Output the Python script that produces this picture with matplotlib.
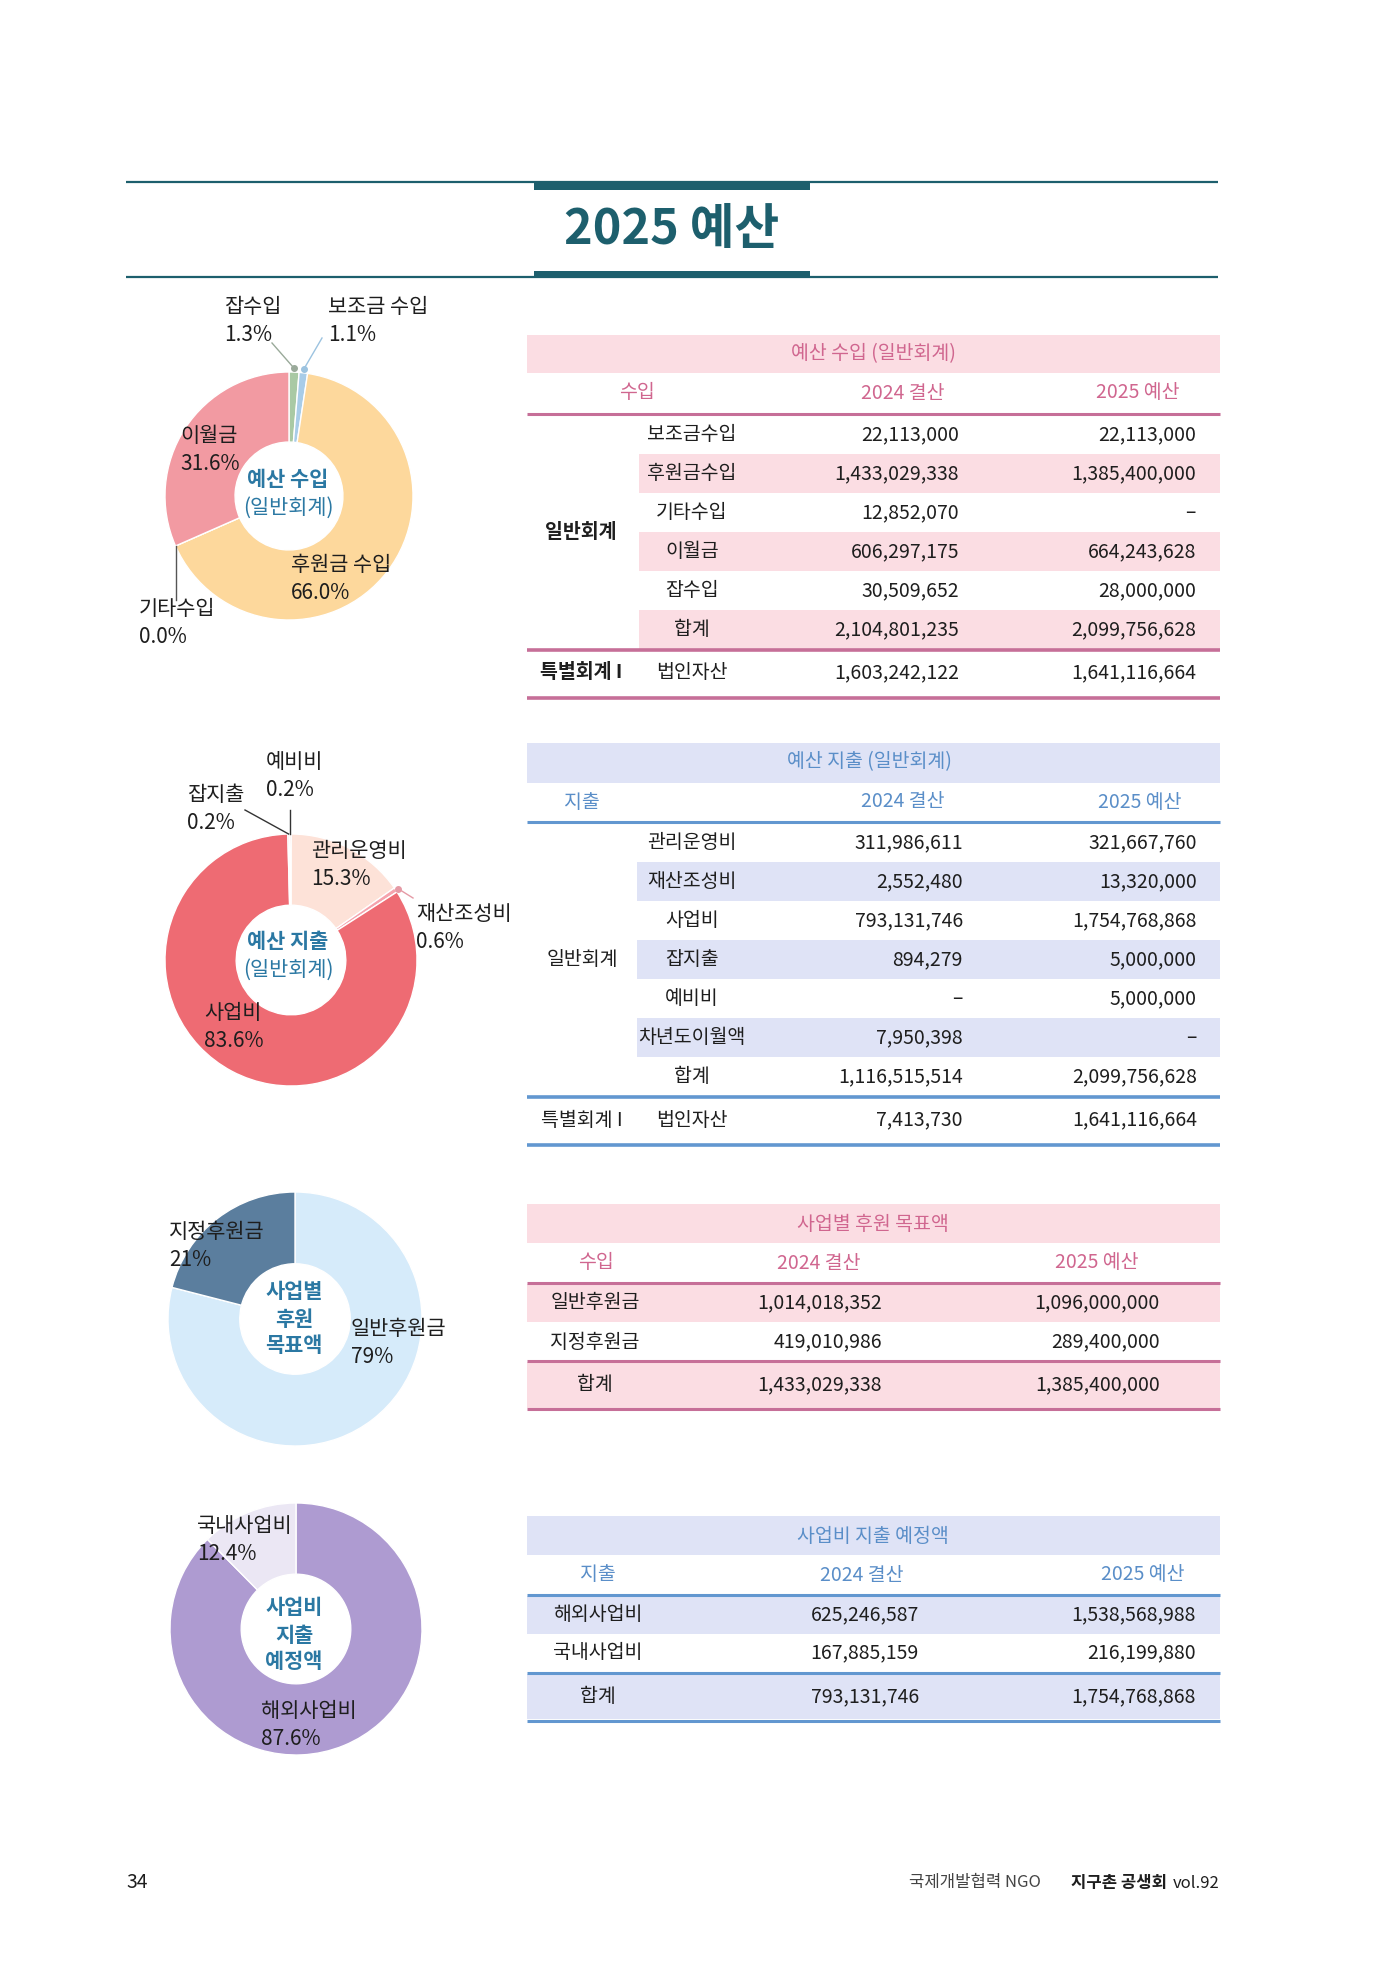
import matplotlib
matplotlib.use('Agg')
import matplotlib.pyplot as plt
from matplotlib.patches import Rectangle
import numpy as np

plt.rcParams['font.family'] = ['Noto Sans CJK KR', 'DejaVu Sans']

W, H = 1381, 1968

# ---------------- data ----------------
# donut 1: 예산 수입 (clockwise from top)
inc_labels = ['잡수입', '보조금 수입', '후원금 수입', '기타수입', '이월금']
inc_pct = [1.3, 1.1, 66.0, 0.0, 31.6]
inc_colors = ['#a9c9a4', '#a8cce8', '#fdd89c', '#cccccc', '#f29aa2']

# donut 2: 예산 지출
exp_labels = ['관리운영비', '재산조성비', '사업비', '잡지출', '예비비']
exp_pct = [15.3, 0.6, 83.6, 0.2, 0.2]
exp_colors = ['#fde2d8', '#f5a3ad', '#ee6b73', '#f2b0b0', '#f7c6c0']

# donut 3: 사업별 후원 목표액
don_labels = ['일반후원금', '지정후원금']
don_pct = [79, 21]
don_colors = ['#d6ebfa', '#5b7e9e']

# donut 4: 사업비 지출 예정액
biz_labels = ['해외사업비', '국내사업비']
biz_pct = [87.6, 12.4]
biz_colors = ['#ae9bd1', '#ebe7f4']

# table 1: 예산 수입 (일반회계)
t1_items = ['보조금수입', '후원금수입', '기타수입', '이월금', '잡수입', '합계']
t1_2024 = [22113000, 1433029338, 12852070, 606297175, 30509652, 2104801235]
t1_2025 = [22113000, 1385400000, None, 664243628, 28000000, 2099756628]
t1_sp_item = '법인자산'
t1_sp_2024 = 1603242122
t1_sp_2025 = 1641116664

# table 2: 예산 지출 (일반회계)
t2_items = ['관리운영비', '재산조성비', '사업비', '잡지출', '예비비', '차년도이월액', '합계']
t2_2024 = [311986611, 2552480, 793131746, 894279, None, 7950398, 1116515514]
t2_2025 = [321667760, 13320000, 1754768868, 5000000, 5000000, None, 2099756628]
t2_sp_item = '법인자산'
t2_sp_2024 = 7413730
t2_sp_2025 = 1641116664

# table 3: 사업별 후원 목표액
t3_items = ['일반후원금', '지정후원금', '합계']
t3_2024 = [1014018352, 419010986, 1433029338]
t3_2025 = [1096000000, 289400000, 1385400000]

# table 4: 사업비 지출 예정액
t4_items = ['해외사업비', '국내사업비', '합계']
t4_2024 = [625246587, 167885159, 793131746]
t4_2025 = [1538568988, 216199880, 1754768868]

# ---------------- style ----------------
TEAL = '#1d5f6d'
CENTER_C = '#2b78a3'
PINK_BG, PINK_TXT, PINK_LINE = '#fbdde3', '#d0668f', '#c66f98'
BLUE_BG, BLUE_TXT, BLUE_LINE = '#dfe3f6', '#5a8ec8', '#6297d0'
TXT = '#1e1e1e'
FS = 14
LFS = 15

fig = plt.figure(figsize=(W / 100, H / 100), dpi=100)
fig.patch.set_facecolor('white')
ax = fig.add_axes([0, 0, 1, 1])
ax.set_xlim(0, W)
ax.set_ylim(H, 0)
ax.axis('off')
ax.set_zorder(10)
ax.patch.set_alpha(0)


def fmt(v):
    return '–' if v is None else f'{v:,}'


def hline(y, x0, x1, c, lw=2.2):
    ax.plot([x0, x1], [y, y], color=c, lw=lw, solid_capstyle='butt')


def band(x0, y0, x1, y1, c):
    ax.add_patch(Rectangle((x0, y0), x1 - x0, y1 - y0, facecolor=c, edgecolor='none', zorder=0))


def donut(cx, cy, R, vals, colors, hole=0.435):
    pax = fig.add_axes([(cx - R) / W, 1 - (cy + R) / H, 2 * R / W, 2 * R / H])
    wedges, _ = pax.pie(vals, colors=colors, startangle=90, counterclock=False,
                        wedgeprops=dict(width=1 - hole, edgecolor='white', linewidth=1))
    pax.set_xlim(-1, 1)
    pax.set_ylim(-1, 1)
    pax.set_axis_off()
    return wedges


def edge_pt(cx, cy, R, w, r=1.0):
    a = np.deg2rad((w.theta1 + w.theta2) / 2)
    return cx + R * r * np.cos(a), cy - R * r * np.sin(a)


def label(x, y, name, pct):
    ax.text(x, y, name, fontsize=LFS, color=TXT, ha='left', va='center')
    ax.text(x, y + 28, pct, fontsize=LFS, color=TXT, ha='left', va='center')


def leader(p, q, c, dot=False):
    ax.plot([p[0], q[0]], [p[1], q[1]], color=c, lw=1)
    if dot:
        ax.plot(p[0], p[1], 'o', color=c, ms=4)


# ---------------- title ----------------
hline(182, 126, 1218, TEAL, lw=1.6)
hline(277, 126, 1218, TEAL, lw=1.6)
band(534, 182, 810, 190, TEAL)
band(534, 271, 810, 278, TEAL)
ax.text(672, 230, '2025 예산', fontsize=35, fontweight='bold', color=TEAL,
        ha='center', va='center')

# ---------------- donut 1 ----------------
c1 = (289, 496, 124)
w1 = donut(*c1, inc_pct, inc_colors)
p = edge_pt(*c1, w1[0], 1.03)
leader(p, (272, 343), '#9aaa9a', dot=True)
p = edge_pt(*c1, w1[1], 1.03)
leader(p, (322, 338), '#9cc3e0', dot=True)
p = edge_pt(*c1, w1[3], 1.0)
leader(p, (p[0], 600), '#555555')
label(224, 307, inc_labels[0], f'{inc_pct[0]:.1f}%')
label(328, 307, inc_labels[1], f'{inc_pct[1]:.1f}%')
label(180, 436, inc_labels[4], f'{inc_pct[4]:.1f}%')
label(291, 565, inc_labels[2], f'{inc_pct[2]:.1f}%')
label(139, 609, inc_labels[3], f'{inc_pct[3]:.1f}%')
ax.text(288, 480, '예산 수입', fontsize=LFS, fontweight='bold', color=CENTER_C, ha='center', va='center')
ax.text(288, 508, '(일반회계)', fontsize=LFS, color=CENTER_C, ha='center', va='center')

# ---------------- table 1 ----------------
TL, TR = 527, 1220
band(TL, 335, TR, 373, PINK_BG)
ax.text(873, 354, '예산 수입 (일반회계)', fontsize=FS, fontweight='medium', color=PINK_TXT, ha='center', va='center')
for x, s in zip([637, 903, 1138], ['수입', '2024 결산', '2025 예산']):
    ax.text(x, 393, s, fontsize=FS, fontweight='medium', color=PINK_TXT, ha='center', va='center')
hline(414, TL, TR, PINK_LINE)
top, rh = 415, 39
for i, (it, a, b) in enumerate(zip(t1_items, t1_2024, t1_2025)):
    yc = top + rh * (i + 0.5)
    if i % 2 == 1:
        band(639, top + rh * i, TR, top + rh * (i + 1), PINK_BG)
    ax.text(692, yc, it, fontsize=FS, color=TXT, ha='center', va='center')
    ax.text(959, yc, fmt(a), fontsize=FS, color=TXT, ha='right', va='center')
    ax.text(1196, yc, fmt(b), fontsize=FS, color=TXT, ha='right', va='center')
ax.text(581, top + rh * len(t1_items) / 2, '일반회계', fontsize=FS, fontweight='bold', color=TXT, ha='center', va='center')
hline(650, TL, TR, PINK_LINE, lw=2.6)
ax.text(581, 673, '특별회계 I', fontsize=FS, fontweight='bold', color=TXT, ha='center', va='center')
ax.text(692, 673, t1_sp_item, fontsize=FS, color=TXT, ha='center', va='center')
ax.text(959, 673, fmt(t1_sp_2024), fontsize=FS, color=TXT, ha='right', va='center')
ax.text(1196, 673, fmt(t1_sp_2025), fontsize=FS, color=TXT, ha='right', va='center')
hline(698, TL, TR, PINK_LINE, lw=2.6)

# ---------------- donut 2 ----------------
c2 = (291, 960, 126)
w2 = donut(*c2, exp_pct, exp_colors)
p = edge_pt(*c2, w2[3], 1.0)
leader(p, (245, 810), '#333333')
p = edge_pt(*c2, w2[4], 1.0)
leader(p, (p[0], 810), '#333333')
p = edge_pt(*c2, w2[1], 1.02)
leader(p, (413, 898), '#e59aa5', dot=True)
label(266, 762, exp_labels[4], f'{exp_pct[4]:.1f}%')
label(187, 795, exp_labels[3], f'{exp_pct[3]:.1f}%')
label(311, 851, exp_labels[0], f'{exp_pct[0]:.1f}%')
label(416, 914, exp_labels[1], f'{exp_pct[1]:.1f}%')
label(204, 1013, exp_labels[2], f'{exp_pct[2]:.1f}%')
ax.text(288, 942, '예산 지출', fontsize=LFS, fontweight='bold', color=CENTER_C, ha='center', va='center')
ax.text(288, 970, '(일반회계)', fontsize=LFS, color=CENTER_C, ha='center', va='center')

# ---------------- table 2 ----------------
band(TL, 743, TR, 783, BLUE_BG)
ax.text(869, 762, '예산 지출 (일반회계)', fontsize=FS, fontweight='medium', color=BLUE_TXT, ha='center', va='center')
for x, s in zip([582, 903, 1140], ['지출', '2024 결산', '2025 예산']):
    ax.text(x, 802, s, fontsize=FS, fontweight='medium', color=BLUE_TXT, ha='center', va='center')
hline(822, TL, TR, BLUE_LINE)
top = 823
for i, (it, a, b) in enumerate(zip(t2_items, t2_2024, t2_2025)):
    yc = top + rh * (i + 0.5)
    if i % 2 == 1:
        band(637, top + rh * i, TR, top + rh * (i + 1), BLUE_BG)
    ax.text(692, yc, it, fontsize=FS, color=TXT, ha='center', va='center')
    ax.text(963, yc, fmt(a), fontsize=FS, color=TXT, ha='right', va='center')
    ax.text(1197, yc, fmt(b), fontsize=FS, color=TXT, ha='right', va='center')
ax.text(582, top + rh * len(t2_items) / 2, '일반회계', fontsize=FS, color=TXT, ha='center', va='center')
hline(1097, TL, TR, BLUE_LINE, lw=2.6)
ax.text(582, 1120, '특별회계 I', fontsize=FS, color=TXT, ha='center', va='center')
ax.text(692, 1120, t2_sp_item, fontsize=FS, color=TXT, ha='center', va='center')
ax.text(963, 1120, fmt(t2_sp_2024), fontsize=FS, color=TXT, ha='right', va='center')
ax.text(1197, 1120, fmt(t2_sp_2025), fontsize=FS, color=TXT, ha='right', va='center')
hline(1145, TL, TR, BLUE_LINE, lw=2.6)

# ---------------- donut 3 ----------------
c3 = (295, 1319, 127)
donut(*c3, don_pct, don_colors)
label(169, 1232, don_labels[1], f'{don_pct[1]}%')
label(351, 1329, don_labels[0], f'{don_pct[0]}%')
for k, s in enumerate(['사업별', '후원', '목표액']):
    ax.text(294, 1292 + 27 * k, s, fontsize=LFS, fontweight='bold', color=CENTER_C, ha='center', va='center')

# ---------------- table 3 ----------------
band(TL, 1204, TR, 1243, PINK_BG)
ax.text(873, 1225, '사업별 후원 목표액', fontsize=FS, fontweight='medium', color=PINK_TXT, ha='center', va='center')
for x, s in zip([596, 819, 1097], ['수입', '2024 결산', '2025 예산']):
    ax.text(x, 1263, s, fontsize=FS, fontweight='medium', color=PINK_TXT, ha='center', va='center')
hline(1283, TL, TR, PINK_LINE)
row_y = [1303, 1342, 1385]
band(TL, 1284, TR, 1322, PINK_BG)
band(TL, 1362, TR, 1408, PINK_BG)
for yc, it, a, b in zip(row_y, t3_items, t3_2024, t3_2025):
    ax.text(595, yc, it, fontsize=FS, color=TXT, ha='center', va='center')
    ax.text(882, yc, fmt(a), fontsize=FS, color=TXT, ha='right', va='center')
    ax.text(1160, yc, fmt(b), fontsize=FS, color=TXT, ha='right', va='center')
hline(1361, TL, TR, PINK_LINE)
hline(1409, TL, TR, PINK_LINE)

# ---------------- donut 4 ----------------
c4 = (296, 1629, 126)
donut(*c4, biz_pct, biz_colors)
label(197, 1526, biz_labels[1], f'{biz_pct[1]:.1f}%')
label(261, 1711, biz_labels[0], f'{biz_pct[0]:.1f}%')
for k, s in enumerate(['사업비', '지출', '예정액']):
    ax.text(294, 1608 + 27 * k, s, fontsize=LFS, fontweight='bold', color=CENTER_C, ha='center', va='center')

# ---------------- table 4 ----------------
band(TL, 1516, TR, 1555, BLUE_BG)
ax.text(873, 1537, '사업비 지출 예정액', fontsize=FS, fontweight='medium', color=BLUE_TXT, ha='center', va='center')
for x, s in zip([598, 862, 1143], ['지출', '2024 결산', '2025 예산']):
    ax.text(x, 1575, s, fontsize=FS, fontweight='medium', color=BLUE_TXT, ha='center', va='center')
hline(1595, TL, TR, BLUE_LINE)
row_y = [1615, 1653, 1697]
band(TL, 1596, TR, 1634, BLUE_BG)
band(TL, 1674, TR, 1719, BLUE_BG)
for yc, it, a, b in zip(row_y, t4_items, t4_2024, t4_2025):
    ax.text(598, yc, it, fontsize=FS, color=TXT, ha='center', va='center')
    ax.text(919, yc, fmt(a), fontsize=FS, color=TXT, ha='right', va='center')
    ax.text(1196, yc, fmt(b), fontsize=FS, color=TXT, ha='right', va='center')
hline(1673, TL, TR, BLUE_LINE)
hline(1721, TL, TR, BLUE_LINE)

# ---------------- footer ----------------
ax.text(126, 1883, '34', fontsize=14, color=TXT, ha='left', va='center')
ax.text(1220, 1883, 'vol.92', fontsize=12, color=TXT, ha='right', va='center')
ax.text(1167, 1883, '지구촌 공생회', fontsize=12, fontweight='bold', color=TXT, ha='right', va='center')
ax.text(1041, 1883, '국제개발협력 NGO', fontsize=12, color='#444444', ha='right', va='center')

fig.savefig('out.png', dpi=100, facecolor='white')
